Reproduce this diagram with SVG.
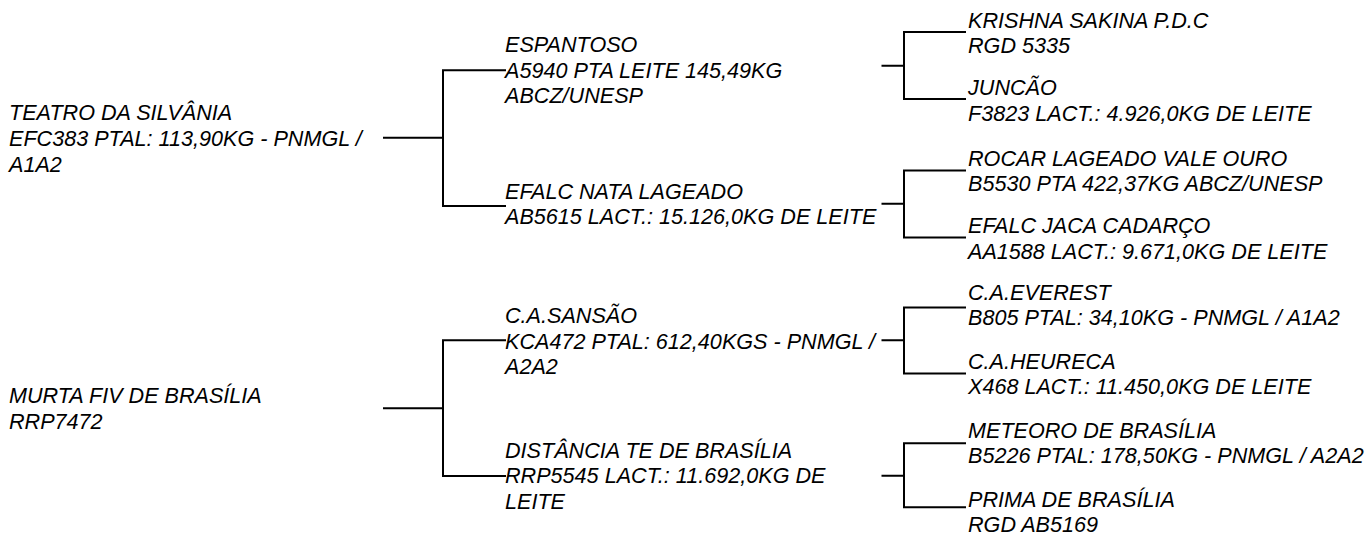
<svg xmlns="http://www.w3.org/2000/svg" width="1369" height="533" viewBox="0 0 1369 533">
<style>
text{font-family:"Liberation Sans",Arial,Helvetica,sans-serif;font-style:italic;font-size:21.6px;fill:#000}
.c path{fill:none;stroke:#000;stroke-width:2;stroke-linecap:square}
</style>
<rect width="1369" height="533" fill="#fff"/>
<g class="c" id="connectors">
<path d="M384 137.7H443M443 70.3V206M443 70.3H505M443 206H505"/>
<path d="M882.5 65.7H904M904 32V99M904 32H965M904 99H965"/>
<path d="M882.5 203.7H904M904 170.5V237.5M904 170.5H965M904 237.5H965"/>
<path d="M384 408.3H443M443 340.3V476M443 340.3H505M443 476H505"/>
<path d="M882.5 340.3H904M904 307.5V373.5M904 307.5H965M904 373.5H965"/>
<path d="M882.5 475.7H904M904 443.3V507.3M904 443.3H965M904 507.3H965"/>
</g>
<g id="n-teatro"><text x="9" y="119.5">TEATRO DA SILVÂNIA</text><text x="9" y="145.5">EFC383 PTAL: 113,90KG - PNMGL /</text><text x="9" y="171.5">A1A2</text></g>
<g id="n-espantoso"><text x="505" y="52">ESPANTOSO</text><text x="505" y="77.7">A5940 PTA LEITE 145,49KG</text><text x="505" y="103.3">ABCZ/UNESP</text></g>
<g id="n-efalc-nata"><text x="505" y="199">EFALC NATA LAGEADO</text><text x="505" y="224">AB5615 LACT.: 15.126,0KG DE LEITE</text></g>
<g id="n-krishna"><text x="968" y="28.3">KRISHNA SAKINA P.D.C</text><text x="968" y="52.7">RGD 5335</text></g>
<g id="n-juncao"><text x="968" y="95">JUNCÃO</text><text x="968" y="121">F3823 LACT.: 4.926,0KG DE LEITE</text></g>
<g id="n-rocar"><text x="968" y="165.7">ROCAR LAGEADO VALE OURO</text><text x="968" y="190.7">B5530 PTA 422,37KG ABCZ/UNESP</text></g>
<g id="n-efalc-jaca"><text x="968" y="233.3">EFALC JACA CADARÇO</text><text x="968" y="259">AA1588 LACT.: 9.671,0KG DE LEITE</text></g>
<g id="n-murta"><text x="9" y="402.7">MURTA FIV DE BRASÍLIA</text><text x="9" y="429">RRP7472</text></g>
<g id="n-sansao"><text x="505" y="323.3">C.A.SANSÃO</text><text x="505" y="349">KCA472 PTAL: 612,40KGS - PNMGL /</text><text x="505" y="374.3">A2A2</text></g>
<g id="n-distancia"><text x="505" y="457.7">DISTÂNCIA TE DE BRASÍLIA</text><text x="505" y="483.3">RRP5545 LACT.: 11.692,0KG DE</text><text x="505" y="509">LEITE</text></g>
<g id="n-everest"><text x="968" y="300">C.A.EVEREST</text><text x="968" y="325">B805 PTAL: 34,10KG - PNMGL / A1A2</text></g>
<g id="n-heureca"><text x="968" y="369">C.A.HEURECA</text><text x="968" y="394">X468 LACT.: 11.450,0KG DE LEITE</text></g>
<g id="n-meteoro"><text x="968" y="438.3">METEORO DE BRASÍLIA</text><text x="968" y="462.7">B5226 PTAL: 178,50KG - PNMGL / A2A2</text></g>
<g id="n-prima"><text x="968" y="507.3">PRIMA DE BRASÍLIA</text><text x="968" y="531.7">RGD AB5169</text></g>
</svg>
